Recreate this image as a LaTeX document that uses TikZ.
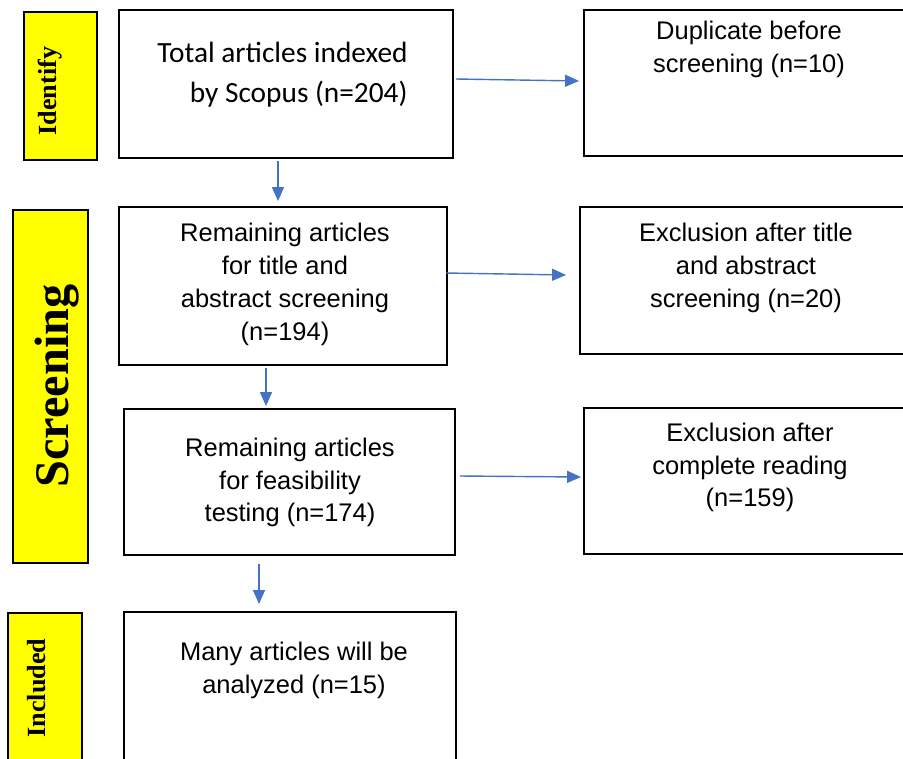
\documentclass[tikz,border=0pt]{standalone}
\usepackage{fontspec}
\setmainfont{Liberation Sans}
\newfontfamily\calfont{Carlito}
\newfontfamily\timesfont{Liberation Serif}
\usetikzlibrary{arrows.meta}
\definecolor{flowblue}{RGB}{68,114,196}
\definecolor{stageyellow}{RGB}{255,255,0}
\begin{document}
\begin{tikzpicture}[x=0.02cm, y=-0.02cm,
  box/.style={draw, line width=1.1pt, inner sep=0pt},
  stage/.style={draw, line width=1.1pt, fill=stageyellow, inner sep=0pt},
  txt/.style={align=center, font=\fontsize{14.5}{18.7}\selectfont},
  stagetxt/.style={rotate=90, font=\timesfont\bfseries},
  flow/.style={draw=flowblue, line width=0.8pt, -{Triangle[length=0.28cm,width=0.24cm]}}]
\useasboundingbox (0,0) rectangle (903,758);
\clip (0,0) rectangle (903,758);
% stages
\node[stage, minimum width=1.46cm, minimum height=2.96cm] (s1) at (60.5,86) {};
\node[stage, minimum width=1.5cm, minimum height=7.06cm] (s2) at (50.5,386.5) {};
\node[stage, minimum width=1.48cm, minimum height=2.96cm] (s3) at (45,687) {};
\node[stagetxt, font=\timesfont\bfseries\fontsize{14.9}{16}\selectfont] (l1) at (50,91) {Identify};
\node[stagetxt, font=\timesfont\bfseries\fontsize{27.5}{30}\selectfont] (l2) at (57,386) {Screening};
\node[stagetxt, font=\timesfont\bfseries\fontsize{14.9}{16}\selectfont] (l3) at (37,688) {Included};
% main boxes
\node[box, minimum width=6.68cm, minimum height=2.96cm] (b1) at (286,84) {};
\node[box, minimum width=6.56cm, minimum height=3.16cm] (b2) at (283,286) {};
\node[box, minimum width=6.62cm, minimum height=2.92cm] (b3) at (289.5,482) {};
\node[box, minimum width=6.64cm, minimum height=2.96cm] (b4) at (290,686) {};
% exclusion boxes
\node[box, minimum width=6.56cm, minimum height=2.92cm] (r1) at (748,83) {};
\node[box, minimum width=6.64cm, minimum height=2.94cm] (r2) at (746,280.5) {};
\node[box, minimum width=6.64cm, minimum height=2.92cm] (r3) at (750,481) {};
% texts
\node[align=right, font=\calfont\fontsize{16.7}{22.7}\selectfont] (t1) at (282.5,75) {Total articles indexed\\by Scopus (n=204)};
\node[txt] (t2) at (285,284.5) {Remaining articles\\for title and\\abstract screening\\(n=194)};
\node[txt] (t3) at (290,482.5) {Remaining articles\\for feasibility\\testing (n=174)};
\node[txt] (t4) at (294,670.5) {Many articles will be\\analyzed (n=15)};
\node[txt] (u1) at (749,49.5) {Duplicate before\\screening (n=10)};
\node[txt] (u2) at (746,268) {Exclusion after title\\and abstract\\screening (n=20)};
\node[txt] (u3) at (750,467.5) {Exclusion after\\complete reading\\(n=159)};
% arrows
\draw[flow] ([shift={(2,-5)}]b1.east) -- ([shift={(-4,-2)}]r1.west);
\draw[flow] ([shift={(-2,-13)}]b2.east) -- ([shift={(-13,-5.5)}]r2.west);
\draw[flow] ([shift={(4,-6)}]b3.east) -- ([shift={(-2,-4)}]r3.west);
\draw[flow] ([shift={(-8,2)}]b1.south) -- ([shift={(-5,-5)}]b2.north);
\draw[flow] ([shift={(-17,2)}]b2.south) -- ([shift={(-23.5,-2)}]b3.north);
\draw[flow] ([shift={(-30.5,8)}]b3.south) -- ([shift={(-31,-7)}]b4.north);
\end{tikzpicture}
\end{document}
